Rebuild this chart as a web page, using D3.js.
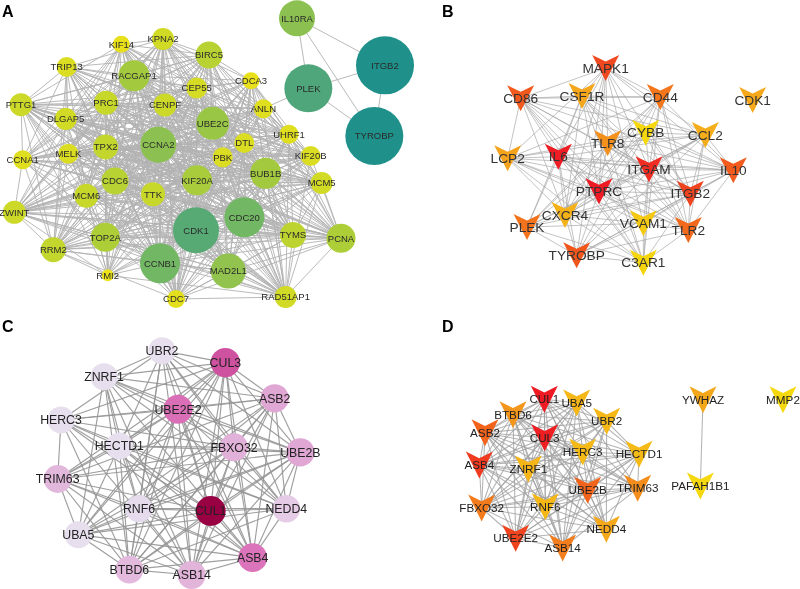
<!DOCTYPE html>
<html>
<head>
<meta charset="utf-8">
<script src="https://cdn.jsdelivr.net/npm/d3@7/dist/d3.min.js"></script>
<style>
html,body{margin:0;padding:0;background:#fff}
svg{display:block;filter:blur(0.35px)}
text{font-family:"Liberation Sans",Arial,sans-serif}
</style>
</head>
<body>
<svg id="chart" width="800" height="589"></svg>
<script>
// Panel A: hub network (layout units)
const aNames=["KIF14","KPNA2","BIRC5","TRIP13","RACGAP1","CEP55","CDCA3","PTTG1","PRC1","CENPF","ANLN","DLGAP5","UBE2C","UHRF1","DTL","TPX2","CCNA2","MELK","PBK","CCNA1","KIF20B","BUB1B","KIF20A","CDC6","MCM5","TTK","MCM6","ZWINT","CDC20","CDK1","TOP2A","TYMS","PCNA","RRM2","CCNB1","MAD2L1","RMI2","CDC7","RAD51AP1","IL10RA","ITGB2","PLEK","TYROBP"];
const aLayoutX=[364,489,627,200,402,590,753,63,318,495,790,197,638,867,733,317,475,205,668,68,932,797,591,345,965,459,259,43,733,588,316,879,1023,160,480,685,323,528,857,891,1155,925,1123];
const aLayoutY=[133,117,165,201,227,264,242,314,308,315,326,357,370,403,429,441,434,461,472,479,468,520,541,543,549,583,587,637,652,691,712,705,715,749,790,813,826,897,891,55,196,265,408];
const aScore=[17,22,27,20,31,21,17,23,24,23,19,22,33,19,20,25,36,20,20,19,20,31,30,27,22,24,24,23,40,46,29,26,29,25,40,35,12,18,22,36,58,48,58];
const aAdjacency=[
"1101101111 1011101010 1110111110 11011001",
"1111101111 1101111111 1111011111 1110110",
"1111111011 1101110110 1111101111 111011",
"1101010111 0111111011 0110110101 11011",
"1111111111 1111111111 1111111111 1011",
"1111011110 1111011111 1011111110 111",
"0101011110 1101110110 1111110110 11",
"1111101110 1101111110 1111111111 1",
"1111101111 1111111111 1111111110",
"1101111011 1111011111 111101111",
"0111011011 0111011011 01110111",
"1101101110 1111011111 1111101",
"1111111111 1111111111 110111",
"1011011110 1101101110 11011",
"1011011111 1011111011 1101",
"1101111111 1111111111 111",
"1111111111 1111111111 11",
"1011111011 1111011101 1",
"0111111111 1111111011",
"0110110110 101110011",
"1110110111 01010111",
"1111011111 1111011",
"1111111111 111011",
"1111111111 11101",
"1011111111 0111",
"1111111111 011",
"1111111111 01",
"1111111110 1",
"1111111011",
"111111111",
"11111101",
"1111011",
"111011",
"11110",
"1111",
"011",
"01",
"1"];
const aExtraEdges=[["ANLN","PLEK"],["IL10RA","PLEK"],["IL10RA","ITGB2"],["IL10RA","TYROBP"],["PLEK","ITGB2"],["PLEK","TYROBP"],["ITGB2","TYROBP"]];

// Panel B: immune genes
const bNames=["MAPK1","CD86","CSF1R","CD44","CYBB","CCL2","TLR8","LCP2","IL6","IL10","ITGAM","PTPRC","ITGB2","CXCR4","PLEK","VCAM1","TLR2","TYROBP","C3AR1","CDK1"];
const bLayoutX=[527,272,456,691,647,826,533,233,385,910,657,507,781,405,291,640,775,440,640,968];
const bLayoutY=[204,295,288,291,398,405,430,475,470,511,508,574,581,645,681,670,690,766,788,300];
const bScore=[80,73,38,60,3,32,48,40,99,72,92,100,82,30,62,14,66,74,4,36];
const bAdjacency=[
"1110111111 11101010",
"1101011111 1101101",
"1011011111 110101",
"1011011111 10101",
"1110111111 0110",
"1011111110 110",
"1011111101 01",
"11011101101",
"1111111111",
"111101110",
"11101111",
"1111111",
"111111",
"11011",
"1011",
"111",
"11",
"1"];

// Panels C and D: ubiquitin genes share one network
const ubqNames=["UBR2","CUL3","ZNRF1","ASB2","UBE2E2","HERC3","HECTD1","FBXO32","UBE2B","TRIM63","RNF6","CUL1","NEDD4","UBA5","ASB4","BTBD6","ASB14"];
const ubqAdjacency=[
"1110111101 110111",
"1111111111 11111",
"1101110101 1111",
"1101111111 111",
"1111111111 11",
"1101011011 1",
"1111111111",
"111111111",
"11111111",
"1101111",
"111111",
"11111",
"1110",
"111",
"11",
"1"];
const cLayoutX=[486,676,312,824,534,183,358,702,901,173,417,632,859,235,758,388,575];
const cLayoutY=[122,158,200,265,298,330,408,412,427,507,596,603,596,674,743,779,795];
const cScore=[2,74,2,42,64,2,2,34,42,30,4,100,16,2,62,28,32];
const dNames=["UBR2","CUL3","ZNRF1","ASB2","UBE2E2","HERC3","HECTD1","FBXO32","UBE2B","TRIM63","RNF6","CUL1","NEDD4","UBA5","ASB4","BTBD6","ASB14","YWHAZ","MMP2","PAFAH1B1"];
const dLayoutX=[530,344,295,165,257,458,627,155,473,623,346,343,529,440,148,249,398,819,1059,811];
const dLayoutY=[334,383,477,368,685,426,433,594,541,535,590,268,658,279,465,314,714,269,269,528];
const dScore=[25,98,28,68,82,24,24,58,68,50,26,100,36,27,86,46,57,37,3,3];
const dExtraEdges=[["YWHAZ","PAFAH1B1"]];

const panelLetters=["A","B","C","D"];

const svg=d3.select("#chart");
const vShape=d3.line()([[-.5,-.5],[0,-.25],[.5,-.5],[0,.5]])+"Z";

function edgesFromRows(names,rows,extra){
  const out=[];
  rows.forEach((row,i)=>{
    [...row.replace(/ /g,"")].forEach((bit,k)=>{
      if(bit==="1") out.push([names[i],names[i+k+1]]);
    });
  });
  return out.concat(extra||[]);
}

function drawPanel(p){
  const x=d3.scaleLinear(p.xDomain,p.xRange), y=d3.scaleLinear(p.yDomain,p.yRange);
  const nodes=p.names.map((name,i)=>({name,x:x(p.lx[i]),y:y(p.ly[i]),score:p.score[i]}));
  const byName=new Map(nodes.map(n=>[n.name,n]));
  const g=svg.append("g");
  g.append("g").selectAll("line").data(p.edges).join("line")
    .attr("x1",e=>byName.get(e[0]).x).attr("y1",e=>byName.get(e[0]).y)
    .attr("x2",e=>byName.get(e[1]).x).attr("y2",e=>byName.get(e[1]).y)
    .attr("stroke",p.edgeColor).attr("stroke-width",p.edgeWidth).attr("stroke-opacity",p.edgeOpacity);
  const ng=g.append("g").selectAll("g").data(nodes).join("g")
    .attr("transform",n=>`translate(${n.x},${n.y})`);
  if(p.shape==="circle"){
    ng.append("circle").attr("r",n=>p.size(n.score)).attr("fill",n=>p.color(n.score));
  }else{
    ng.append("path").attr("d",vShape)
      .attr("transform",`scale(${p.markW},${p.markH})`)
      .attr("fill",n=>p.color(n.score));
  }
  ng.append("text").text(n=>n.name)
    .attr("text-anchor","middle").attr("dy","0.35em")
    .attr("font-size",p.fontSize).attr("fill",p.textColor);
}

drawPanel({
  names:aNames,lx:aLayoutX,ly:aLayoutY,score:aScore,
  edges:edgesFromRows(aNames,aAdjacency,aExtraEdges),
  xDomain:[0,1260],xRange:[0,420],yDomain:[0,900],yRange:[0,300],
  shape:"circle",
  size:d3.scaleLinear([0,60],[0,30]),
  color:d3.scaleLinear([12,17,24,31,36,40,48,58],["#ece31a","#e8e01a","#c8d82a","#a3ca3e","#8cc152","#72b763","#4fa67b","#1f918a"]),
  edgeColor:"#b2b2b2",edgeWidth:1,edgeOpacity:.9,fontSize:9.5,textColor:"#2a2a2a"
});
const warm=d3.scaleLinear([0,40,70,100],["#f5dc0c","#f5a31c","#f2601c","#ee1a24"]);
drawPanel({
  names:bNames,lx:bLayoutX,ly:bLayoutY,score:bScore,
  edges:edgesFromRows(bNames,bAdjacency),
  xDomain:[0,1110],xRange:[430,800],yDomain:[0,900],yRange:[0,300],
  shape:"v",markW:27,markH:26,color:warm,
  edgeColor:"#a5a5a5",edgeWidth:.9,edgeOpacity:.75,fontSize:13.7,textColor:"#333"
});
drawPanel({
  names:ubqNames,lx:cLayoutX,ly:cLayoutY,score:cScore,
  edges:edgesFromRows(ubqNames,ubqAdjacency),
  xDomain:[0,1140],xRange:[0,380],yDomain:[0,837],yRange:[310,589],
  shape:"circle",
  size:d3.scaleLinear([0,100],[13.5,15]),
  color:d3.scaleLinear([0,45,70,100],["#e7e1ef","#e0a2d2","#d85fae","#980043"]),
  edgeColor:"#959595",edgeWidth:1.15,edgeOpacity:.9,fontSize:12.3,textColor:"#222"
});
drawPanel({
  names:dNames,lx:dLayoutX,ly:dLayoutY,score:dScore,
  edges:edgesFromRows(ubqNames,ubqAdjacency,dExtraEdges),
  xDomain:[0,1110],xRange:[430,800],yDomain:[0,837],yRange:[310,589],
  shape:"v",markW:27,markH:27,color:warm,
  edgeColor:"#a0a0a0",edgeWidth:1.05,edgeOpacity:.8,fontSize:11.7,textColor:"#222"
});

const letterX=d3.scalePoint(["left","right"],[2,442]);
const letterY=d3.scalePoint(["top","bottom"],[17,332]);
svg.append("g").selectAll("text").data(panelLetters).join("text")
  .text(d=>d)
  .attr("x",(d,i)=>letterX(i%2?"right":"left"))
  .attr("y",(d,i)=>letterY(i<2?"top":"bottom"))
  .attr("font-size",16).attr("font-weight","bold").attr("fill","#000");
</script>
</body>
</html>
